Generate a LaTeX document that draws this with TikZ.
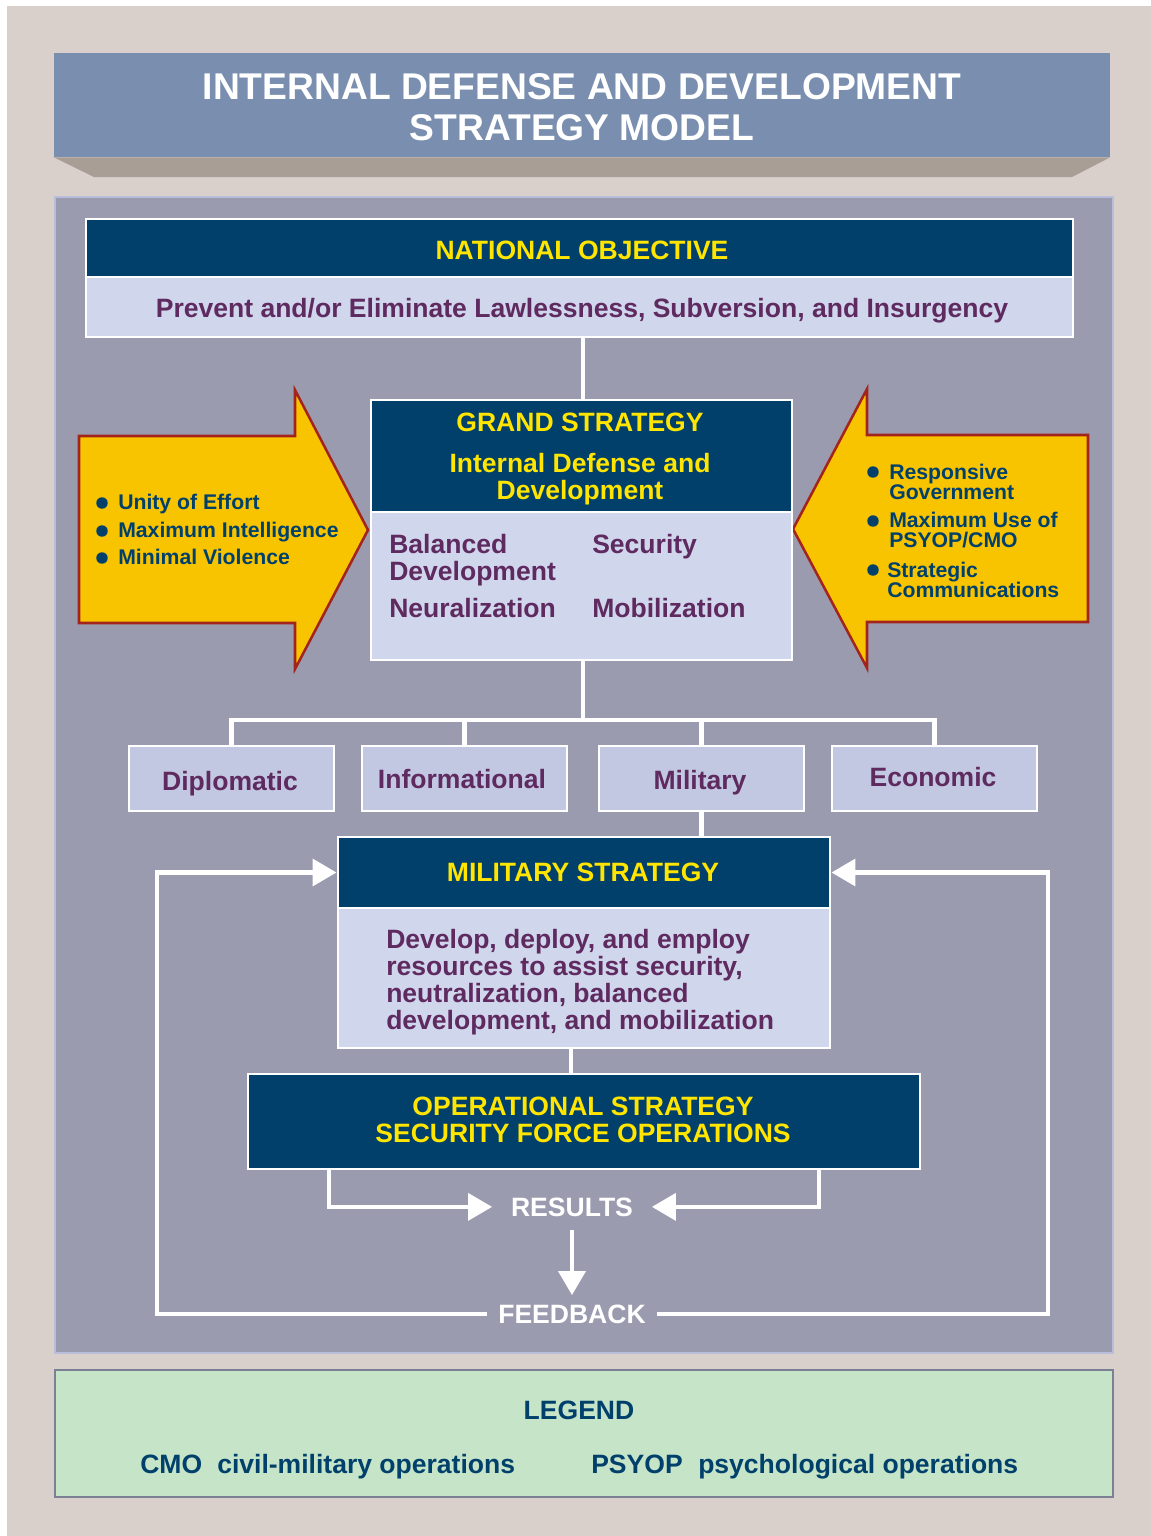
\documentclass[tikz,border=0pt]{standalone}
\usepackage{fontspec}
\setmainfont{Liberation Sans}
\usetikzlibrary{arrows.meta,fit}
\definecolor{beige}{HTML}{DAD0CB}
\definecolor{titleblue}{HTML}{7A8FB0}
\definecolor{shadowc}{HTML}{A89E95}
\definecolor{panelc}{HTML}{9B9BB0}
\definecolor{panelborder}{HTML}{B8BEDA}
\definecolor{navy}{HTML}{00406B}
\definecolor{yel}{HTML}{FFE500}
\definecolor{lav}{HTML}{D0D6EC}
\definecolor{lavb}{HTML}{C2C8E2}
\definecolor{purp}{HTML}{5E2A60}
\definecolor{arrowyel}{HTML}{F8C400}
\definecolor{arrowred}{HTML}{A3241A}
\definecolor{legendgreen}{HTML}{C6E4C8}
\definecolor{legendborder}{HTML}{7C8095}
\newcommand\Fmain{\fontsize{19.9}{20.25}\selectfont\bfseries}
\newcommand\Ftitle{\fontsize{27.9}{30.75}\selectfont\bfseries}
\newcommand\Fsmall{\fontsize{15.9}{15}\selectfont\bfseries}
\tikzset{
  conn/.style={draw=white, line width=3.4pt},
  arr/.style={conn, -{Triangle[length=18pt,width=20pt]}},
  wbox/.style={inner sep=0pt, draw=white, line width=2.2pt},
  navybox/.style={wbox, fill=navy},
  lavbox/.style={wbox, fill=lav},
  tbox/.style={wbox, fill=lavb},
  ytext/.style={inner sep=0pt, text=yel, font=\Fmain, align=center},
  ptext/.style={inner sep=0pt, text=purp, font=\Fmain, align=left},
  ntext/.style={inner sep=0pt, text=navy, font=\Fsmall, align=left},
  wtext/.style={text=white, font=\Fmain},
  yarrow/.style={fill=arrowyel, draw=arrowred, line width=1.9pt, line join=miter},
}
\begin{document}
\begin{tikzpicture}[x=0.75pt,y=-0.75pt]
\useasboundingbox (0,0) rectangle (1151,1536);
\fill[white] (0,0) rectangle (1151,1536);
\fill[beige] (7,6) rectangle (1151,1536);

% title banner
\node[fit={(54,53)(1110,157)}, inner sep=0pt, fill=titleblue] (titlebar) {};
\fill[shadowc] (titlebar.south west) -- (titlebar.south east) -- (1072,177) -- (94,177) -- cycle;
\node[anchor=north, inner sep=0pt, text=white, font=\Ftitle, align=center] (title) at (582,73)
  {INTERNAL DEFENSE AND DEVELOPMENT\\STRATEGY MODEL};

% main panel
\node[fit={(55,197)(1113,1353)}, inner sep=0pt, fill=panelc, draw=panelborder, line width=0.8pt] (panel) {};

% yellow arrows
\filldraw[yarrow] (79,436) -- (295,436) -- (295,390) -- (368,530) -- (295,669) -- (295,623) -- (79,623) -- cycle;
\filldraw[yarrow] (1088,435) -- (867,435) -- (867,389) -- (793,529) -- (867,668) -- (867,622) -- (1088,622) -- cycle;

% national objective
\node[navybox, fit={(86,219)(1073,277)}] (no1) {};
\node[lavbox, fit={(86,277)(1073,337)}] (no2) {};
\node[ytext, anchor=base] (notitle) at (582,259) {NATIONAL OBJECTIVE};
\node[ptext, anchor=base] (notext) at (582,317) {Prevent and/or Eliminate Lawlessness, Subversion, and Insurgency};

% grand strategy
\node[navybox, fit={(371,400)(792,512)}] (gs1) {};
\node[lavbox, fit={(371,512)(792,660)}] (gs2) {};
\node[ytext, anchor=north] (gstitle) at (580,413) {GRAND STRATEGY};
\node[ytext, anchor=north] (gssub) at (580,453) {Internal Defense and\\Development};
\node[ptext, anchor=north west] (gsbal) at (389,534) {Balanced\\Development};
\node[ptext, anchor=base west] (gsneu) at (389,617) {Neuralization};
\node[ptext, anchor=base west] (gssec) at (592,553) {Security};
\node[ptext, anchor=base west] (gsmob) at (592,617) {Mobilization};

% left arrow text
\fill[navy] (102,503) circle (4.3pt);
\fill[navy] (102,531) circle (4.3pt);
\fill[navy] (102,558) circle (4.3pt);
\node[ntext, anchor=base west] (la1) at (118,509) {Unity of Effort};
\node[ntext, anchor=base west] (la2) at (118,537) {Maximum Intelligence};
\node[ntext, anchor=base west] (la3) at (118,564) {Minimal Violence};

% right arrow text
\fill[navy] (873,472) circle (4.3pt);
\fill[navy] (873,521) circle (4.3pt);
\fill[navy] (873,570) circle (4.3pt);
\node[ntext, anchor=north west] (ra1) at (889,464) {Responsive\\Government};
\node[ntext, anchor=north west] (ra2) at (889,512) {Maximum Use of\\PSYOP/CMO};
\node[ntext, anchor=north west] (ra3) at (887,562) {Strategic\\Communications};

% instruments of power
\node[tbox, fit={(129,746)(334,811)}] (dip) {};
\node[tbox, fit={(362,746)(567,811)}] (inf) {};
\node[tbox, fit={(599,746)(804,811)}] (mil) {};
\node[tbox, fit={(832,746)(1037,811)}] (eco) {};
\node[ptext, anchor=base] (diptext) at (230,790) {Diplomatic};
\node[ptext, anchor=base] (inftext) at (462,788) {Informational};
\node[ptext, anchor=base] (miltext) at (700,789) {Military};
\node[ptext, anchor=base] (ecotext) at (933,786) {Economic};

% military strategy
\node[navybox, fit={(338,837)(830,908)}] (ms1) {};
\node[lavbox, fit={(338,908)(830,1048)}] (ms2) {};
\node[ytext, anchor=base] (mstitle) at (583,881.5) {MILITARY STRATEGY};
\node[ptext, anchor=north west] (mstext) at (386,929)
  {Develop, deploy, and employ\\resources to assist security,\\neutralization, balanced\\development, and mobilization};

% operational strategy
\node[navybox, fit={(248,1074)(920,1169)}] (op) {};
\node[ytext, anchor=north] (optext) at (583,1097) {OPERATIONAL STRATEGY\\SECURITY FORCE OPERATIONS};

% results / feedback
\node[wtext, anchor=base, inner xsep=14pt, inner ysep=10pt] (res) at (572,1216) {RESULTS};
\node[wtext, anchor=base, inner xsep=8pt, inner ysep=6.8pt] (fb) at (572,1323) {FEEDBACK};

% connectors
\coordinate (tx) at (583,0);
\coordinate (bus) at (583,720);
\coordinate (rx) at (571,0);
\coordinate (oL) at (329,0);
\coordinate (oR) at (819,0);
\coordinate (lx) at (157,0);
\coordinate (rx2) at (1048,0);
\draw[conn] (no2.south -| tx) -- (gs1.north -| tx);
\draw[conn] (gs2.south -| bus) -- (bus);
\draw[conn, line join=miter] (dip.north) -- (dip.north |- bus) -- (eco.north |- bus) -- (eco.north);
\draw[conn] (inf.north) -- (inf.north |- bus);
\draw[conn] (mil.north) -- (mil.north |- bus);
\draw[conn] (mil.south) -- (mil.south |- ms1.north);
\draw[conn] (ms2.south -| rx) -- (op.north -| rx);
\draw[arr] (op.south -| oL) |- (res.west);
\draw[arr] (op.south -| oR) |- (res.east);
\draw[arr] (res.south) -- (fb.north);
\draw[arr, line join=miter] (fb.west) -| (ms1.west -| lx) -- (ms1.west);
\draw[arr, line join=miter] (fb.east) -| (ms1.east -| rx2) -- (ms1.east);

% legend
\node[fit={(55,1370)(1113,1497)}, inner sep=0pt, fill=legendgreen, draw=legendborder, line width=2pt] (legend) {};
\node[inner sep=0pt, text=navy, font=\Fmain, anchor=base] (legtitle) at (579,1419) {LEGEND};
\node[inner sep=0pt, text=navy, font=\Fmain, anchor=base west] (cmo) at (140,1473) {CMO};
\node[inner sep=0pt, text=navy, font=\Fmain, anchor=base west] (cmotext) at (217,1473) {civil-military operations};
\node[inner sep=0pt, text=navy, font=\Fmain, anchor=base west] (psyop) at (591,1473) {PSYOP};
\node[inner sep=0pt, text=navy, font=\Fmain, anchor=base west] (psyoptext) at (698,1473) {psychological operations};
\end{tikzpicture}
\end{document}
